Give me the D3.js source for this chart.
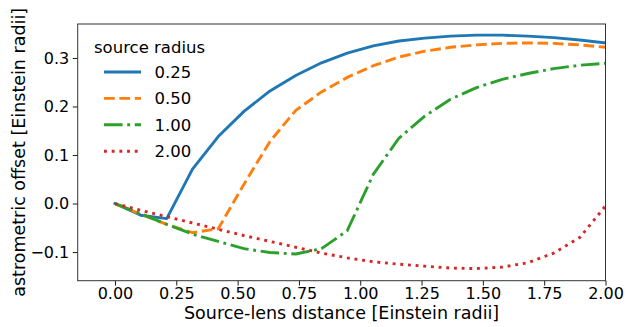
<!DOCTYPE html>
<html>
<head>
<meta charset="utf-8">
<script src="https://cdn.jsdelivr.net/npm/d3@7"></script>
<style>
  html, body { margin: 0; padding: 0; background: #fff; }
  svg { display: block; }
  text { font-family: "DejaVu Sans", sans-serif; fill: #000; }
</style>
</head>
<body>
<svg id="chart" width="627" height="327"></svg>
<script>
// ---- data ----
const distance = [0.000, 0.105, 0.211, 0.316, 0.421, 0.526, 0.632, 0.737, 0.842, 0.947,
                  1.053, 1.158, 1.263, 1.368, 1.474, 1.579, 1.684, 1.789, 1.895, 2.000];
const offset025 = [0, -0.024, -0.031, 0.071, 0.138, 0.190, 0.232, 0.264, 0.290, 0.310,
                   0.325, 0.335, 0.341, 0.345, 0.347, 0.347, 0.345, 0.342, 0.337, 0.331];
const offset050 = [0, -0.022, -0.043, -0.060, -0.052, 0.040, 0.128, 0.192, 0.230, 0.260,
                   0.284, 0.302, 0.314, 0.322, 0.327, 0.330, 0.331, 0.330, 0.327, 0.322];
const offset100 = [0, -0.021, -0.043, -0.063, -0.078, -0.093, -0.101, -0.104, -0.093, -0.056,
                   0.060, 0.135, 0.180, 0.215, 0.239, 0.256, 0.268, 0.278, 0.285, 0.289];
const offset200 = [0, -0.014, -0.027, -0.040, -0.053, -0.066, -0.078, -0.090, -0.102, -0.112,
                   -0.120, -0.125, -0.129, -0.133, -0.134, -0.131, -0.122, -0.102, -0.070, -0.005];
const seriesLabels = ["0.25", "0.50", "1.00", "2.00"];
const xTicks = [0, 0.25, 0.5, 0.75, 1.0, 1.25, 1.5, 1.75, 2.0];
const yTicks = [-0.1, 0.0, 0.1, 0.2, 0.3];
const legendTitle = "source radius";
const xLabel = "Source-lens distance [Einstein radii]";
const yLabel = "astrometric offset [Einstein radii]";

// ---- styles ----
const colors = ["#1f77b4", "#ff7f0e", "#2ca02c", "#d62728"];
const lw = 2.9;
const dashes = [null, `${3.7*lw},${1.6*lw}`, `${6.4*lw},${1.6*lw},${1*lw},${1.6*lw}`, `${1*lw},${1.65*lw}`];

const svg = d3.select("#chart");
const L = 77.7, R = 605.5, T = 24, B = 280.7;

const x = d3.scaleLinear().domain([-0.152, 2.0]).range([L, R]);
const y = d3.scaleLinear().domain([-0.159, 0.370]).range([B, T]);

const series = [offset025, offset050, offset100, offset200];

// clip
svg.append("defs").append("clipPath").attr("id", "clip")
  .append("rect").attr("x", L).attr("y", T).attr("width", R - L).attr("height", B - T);

const line = d3.line().x((d, i) => x(distance[i])).y(d => y(d));

const g = svg.append("g").attr("clip-path", "url(#clip)");
series.forEach((s, k) => {
  g.append("path")
    .attr("d", line(s))
    .attr("fill", "none")
    .attr("stroke", colors[k])
    .attr("stroke-width", lw)
    .attr("stroke-linejoin", "round")
    .attr("stroke-linecap", k === 0 ? "square" : "butt")
    .attr("stroke-dasharray", dashes[k]);
});

// axes
const fmtX = d => d3.format(".2f")(d);
const fmtY = d => d3.format(".1f")(d).replace("-", "\u2212");

const xAxis = svg.append("g").attr("transform", `translate(0,${B})`)
  .call(d3.axisBottom(x).tickValues(xTicks).tickFormat(fmtX).tickSize(4.9).tickPadding(1.6));
const yAxis = svg.append("g").attr("transform", `translate(${L},0)`)
  .call(d3.axisLeft(y).tickValues(yTicks).tickFormat(fmtY).tickSize(4.9).tickPadding(3.5));

[xAxis, yAxis].forEach(a => {
  a.select(".domain").remove();
  a.selectAll(".tick line").attr("stroke", "#000").attr("stroke-width", 0.9);
  a.selectAll(".tick text").style("font-family", "DejaVu Sans").style("font-size", "16px").attr("fill", "#000");
});

// frame
svg.append("rect").attr("x", L).attr("y", T).attr("width", R - L).attr("height", B - T)
  .attr("fill", "none").attr("stroke", "#333").attr("stroke-width", 1);

// labels
svg.append("text").attr("x", (L + R) / 2).attr("y", 319)
  .attr("text-anchor", "middle").style("font-size", "17.5px").text(xLabel);
svg.append("text").attr("transform", `translate(24.5,${(T + B) / 2}) rotate(-90)`)
  .attr("text-anchor", "middle").style("font-size", "17.5px").text(yLabel);

// legend
const lg = svg.append("g");
lg.append("text").attr("x", 94).attr("y", 53).style("font-size", "16.5px").text(legendTitle);
seriesLabels.forEach((lab, k) => {
  const cy = 72 + k * 26.4;
  lg.append("line").attr("x1", 104).attr("x2", 141).attr("y1", cy).attr("y2", cy)
    .attr("stroke", colors[k]).attr("stroke-width", lw)
    .attr("stroke-linecap", "butt")
    .attr("stroke-dasharray", dashes[k]);
  lg.append("text").attr("x", 154.5).attr("y", cy).attr("dy", "0.36em")
    .style("font-size", "16.5px").text(lab);
});
</script>
</body>
</html>
